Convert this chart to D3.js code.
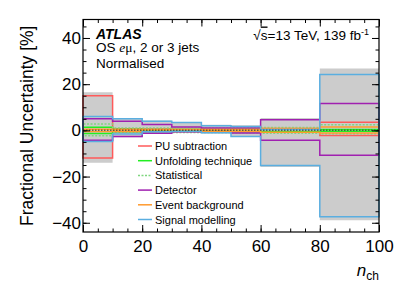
<!DOCTYPE html>
<html>
<head>
<meta charset="utf-8">
<script src="https://cdn.jsdelivr.net/npm/d3@7"></script>
<style>
  body { margin: 0; background: #fff; }
  text { font-family: "Liberation Sans", Arial, sans-serif; }
</style>
</head>
<body>
<div id="chart"></div>
<script>
var width = 399;
var height = 286;

// bin edges in n_ch
var edges = [0, 10, 20, 30, 40, 50, 60, 80, 100];

// total uncertainty (grey band)
var totalUp   = [16.5, 5.3, 4.3, 3.6, 2.4, 2.2, 5.4, 26.8];
var totalDown = [-14.0, -3.0, -1.6, -1.0, -1.4, -2.9, -15.9, -38.9];

// individual sources, upper / lower
var puUp     = [15.0, 0.7, 0.6, 0.5, 0.6, 0.6, 0.8, 3.5];
var puDown   = [-12.0, -0.7, -0.6, -0.5, -0.6, -0.6, -0.8, -2.2];
var unfUp    = [1.3, 0.5, 0.4, 0.4, 0.4, 0.5, 0.5, 0.4];
var unfDown  = [-1.4, -0.5, -0.4, -0.4, -0.4, -0.5, -0.5, -0.4];
var statUp   = [2.8, 1.0, 1.0, 0.9, 0.9, 1.0, 1.2, 2.4];
var statDown = [-2.3, -1.0, -1.0, -0.9, -0.9, -1.0, -1.2, -1.5];
var detUp    = [5.0, 3.9, 2.5, 1.5, 1.0, 1.0, 4.6, 11.6];
var detDown  = [-4.3, -2.6, -1.2, -0.6, -0.5, -1.1, -4.3, -10.8];
var bkgUp    = [0.5, 0.4, 0.4, 0.4, 0.4, 0.4, 0.8, 1.5];
var bkgDown  = [-0.5, -0.4, -0.4, -0.4, -0.4, -0.4, -0.8, -1.1];
var sigUp    = [6.0, 5.0, 3.9, 3.4, 2.0, 1.7, 0.4, 24.2];
var sigDown  = [-4.8, -1.6, -0.6, -0.4, -1.0, -2.6, -15.2, -37.4];

var names = ["PU subtraction", "Unfolding technique", "Statistical", "Detector", "Event background", "Signal modelling"];
var colors = ["#ff5a5a", "#22ee22", "#7fd67f", "#a020b0", "#ff9a2e", "#5aaee0"];
var dashes = [null, null, "2,1.5", null, null, null];
var ups = [puUp, unfUp, statUp, detUp, bkgUp, sigUp];
var downs = [puDown, unfDown, statDown, detDown, bkgDown, sigDown];

var xTicks = [0, 20, 40, 60, 80, 100];
var yTicks = [-40, -20, 0, 20, 40];

var margin = { left: 83, right: 20, top: 19.5, bottom: 54 };

var svg = d3.select("#chart")
  .append("svg")
  .attr("width", width)
  .attr("height", height);

var x = d3.scaleLinear().domain([0, 100]).range([margin.left, width - margin.right]);
var y = d3.scaleLinear().domain([-44, 48]).range([height - margin.bottom, margin.top]);

// grey band
var band = [];
totalUp.forEach(function(v, i) {
  band.push({ x: edges[i], hi: v, lo: totalDown[i] });
  band.push({ x: edges[i + 1], hi: v, lo: totalDown[i] });
});
svg.append("path")
  .datum(band)
  .attr("fill", "#cccccc")
  .attr("d", d3.area().x(function(d) { return x(d.x); }).y0(function(d) { return y(d.lo); }).y1(function(d) { return y(d.hi); }));

function stepPoints(vals) {
  var pts = [[edges[0], 0]];
  vals.forEach(function(v, i) {
    pts.push([edges[i], v]);
    pts.push([edges[i + 1], v]);
  });
  pts.push([edges[edges.length - 1], 0]);
  return pts;
}

var line = d3.line().x(function(d) { return x(d[0]); }).y(function(d) { return y(d[1]); });

names.forEach(function(n, k) {
  [ups[k], downs[k]].forEach(function(vals) {
    svg.append("path")
      .datum(stepPoints(vals))
      .attr("fill", "none")
      .attr("stroke", colors[k])
      .attr("stroke-width", 1.5)
      .attr("stroke-dasharray", dashes[k])
      .attr("d", line);
  });
});

// dotted line at zero
svg.append("line")
  .attr("x1", x(0)).attr("x2", x(100))
  .attr("y1", y(0)).attr("y2", y(0))
  .attr("stroke", "#333")
  .attr("stroke-width", 1.5)
  .attr("stroke-dasharray", "1.5,1.5")
  .attr("opacity", 0.7);

// axes: inward ticks on all four sides
function styleAxis(g) {
  g.select(".domain").remove();
  g.selectAll(".tick line").attr("stroke", "#000").attr("stroke-width", 1);
  g.selectAll("text").attr("font-size", 17).attr("fill", "#000").attr("font-family", "Liberation Sans, Arial, sans-serif");
}
var xb = height - margin.bottom;
var xt = margin.top;
var yl = margin.left;
var yr = width - margin.right;

svg.append("g").attr("transform", "translate(0," + xb + ")")
  .call(d3.axisBottom(x).tickValues(d3.range(0, 101, 5)).tickSize(-3.5).tickFormat(""))
  .call(styleAxis);
svg.append("g").attr("transform", "translate(0," + xb + ")")
  .call(d3.axisBottom(x).tickValues(xTicks).tickSize(-7).tickPadding(4).tickFormat(d3.format("d")))
  .call(styleAxis)
  .selectAll("text").attr("dy", "0.95em");
svg.append("g").attr("transform", "translate(0," + xt + ")")
  .call(d3.axisTop(x).tickValues(d3.range(0, 101, 5)).tickSize(-3.5).tickFormat(""))
  .call(styleAxis);
svg.append("g").attr("transform", "translate(0," + xt + ")")
  .call(d3.axisTop(x).tickValues(xTicks).tickSize(-7).tickFormat(""))
  .call(styleAxis);

svg.append("g").attr("transform", "translate(" + yl + ",0)")
  .call(d3.axisLeft(y).tickValues(d3.range(-40, 46, 5)).tickSize(-3.5).tickFormat(""))
  .call(styleAxis);
svg.append("g").attr("transform", "translate(" + yl + ",0)")
  .call(d3.axisLeft(y).tickValues(yTicks).tickSize(-7).tickPadding(2).tickFormat(d3.format("d")))
  .call(styleAxis);
svg.append("g").attr("transform", "translate(" + yr + ",0)")
  .call(d3.axisRight(y).tickValues(d3.range(-40, 46, 5)).tickSize(-3.5).tickFormat(""))
  .call(styleAxis);
svg.append("g").attr("transform", "translate(" + yr + ",0)")
  .call(d3.axisRight(y).tickValues(yTicks).tickSize(-7).tickFormat(""))
  .call(styleAxis);

// frame
svg.append("rect")
  .attr("x", yl).attr("y", xt)
  .attr("width", yr - yl).attr("height", xb - xt)
  .attr("fill", "none").attr("stroke", "#000").attr("stroke-width", 1.2);

// axis titles
svg.append("text")
  .attr("transform", "translate(33," + ((xt + xb) / 2) + ") rotate(-90)")
  .attr("text-anchor", "middle")
  .attr("font-size", 17.5)
  .text("Fractional Uncertainty [%]");

var xl = svg.append("text")
  .attr("x", yr).attr("y", 276)
  .attr("text-anchor", "end")
  .attr("font-size", 17);
xl.append("tspan").attr("font-style", "italic").text("n");
xl.append("tspan").attr("font-size", 12).attr("dy", 4).text("ch");

// labels
svg.append("text")
  .attr("x", 96).attr("y", 38.5)
  .attr("font-size", 14).attr("font-weight", "bold").attr("font-style", "italic")
  .text("ATLAS");
var os = svg.append("text").attr("x", 96).attr("y", 52).attr("font-size", 13.5);
os.append("tspan").text("OS ");
os.append("tspan").attr("font-family", "Liberation Serif, serif").attr("font-style", "italic").text("e");
os.append("tspan").attr("font-family", "Liberation Serif, serif").text("\u03bc");
os.append("tspan").text(", 2 or 3 jets");
svg.append("text").attr("x", 96).attr("y", 67.5).attr("font-size", 13.5).text("Normalised");

var en = svg.append("text").attr("x", 369).attr("y", 39.5).attr("font-size", 13.5).attr("text-anchor", "end");
en.append("tspan").text("\u221a");
en.append("tspan").style("text-decoration", "overline").text("s");
en.append("tspan").text("=13 TeV, 139 fb");
en.append("tspan").attr("font-size", 9).attr("dy", -5).text("-1");

// legend
var leg = svg.append("g");
names.forEach(function(n, k) {
  var ly = 146 + k * 14.7;
  leg.append("line")
    .attr("x1", 138).attr("x2", 152)
    .attr("y1", ly).attr("y2", ly)
    .attr("stroke", colors[k]).attr("stroke-width", 1.5)
    .attr("stroke-dasharray", dashes[k]);
  leg.append("text")
    .attr("x", 155).attr("y", ly + 4)
    .attr("font-size", 11)
    .text(n);
});
</script>
</body>
</html>
